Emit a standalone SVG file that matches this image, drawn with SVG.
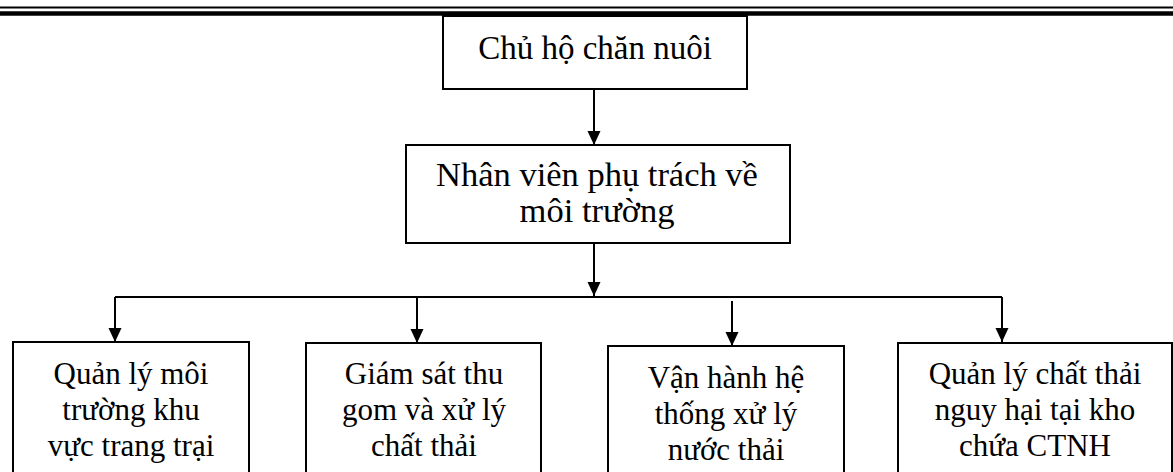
<svg xmlns="http://www.w3.org/2000/svg" width="1173" height="472" viewBox="0 0 1173 472">
  <style>
    .box { fill: #ffffff; stroke: #000000; stroke-width: 2; }
    .lbl { font-family: "Liberation Serif", "Times New Roman", serif; font-size: 31px; fill: #000000; text-anchor: middle; }
    .top { font-size: 33px; }
    .mid { font-size: 34.5px; }
    .wire { fill: none; stroke: #000000; stroke-width: 2; }
    .rule { stroke: #000000; }
  </style>
  <defs>
    <marker id="arrow" viewBox="0 0 14 14" refX="14" refY="7" markerWidth="14" markerHeight="14" markerUnits="userSpaceOnUse" orient="auto">
      <path d="M0,0.5 L14,7 L0,13.5 Z" fill="#000000"/>
    </marker>
  </defs>

  <!-- page header rules -->
  <g id="header">
    <line class="rule" x1="0" y1="7.5" x2="1173" y2="7.5" stroke-width="2"/>
    <line class="rule" x1="0" y1="13.5" x2="1173" y2="13.5" stroke-width="4.5"/>
  </g>

  <!-- connectors -->
  <g id="connectors">
    <line class="wire" x1="594" y1="89" x2="594" y2="145" marker-end="url(#arrow)"/>
    <line class="wire" x1="594" y1="243" x2="594" y2="296" marker-end="url(#arrow)"/>
    <polyline class="wire" points="115,297 1002,297"/>
    <line class="wire" x1="115" y1="297" x2="115" y2="342" marker-end="url(#arrow)"/>
    <line class="wire" x1="417" y1="297" x2="417" y2="343" marker-end="url(#arrow)"/>
    <line class="wire" x1="732" y1="301" x2="732" y2="346" marker-end="url(#arrow)"/>
    <line class="wire" x1="1002" y1="297" x2="1002" y2="342" marker-end="url(#arrow)"/>
  </g>

  <g id="node-owner">
    <rect class="box" x="443" y="16" width="304" height="73"/>
    <text class="lbl top" x="595" y="59">Chủ hộ chăn nuôi</text>
  </g>

  <g id="node-staff">
    <rect class="box" x="406" y="145" width="384" height="98"/>
    <text class="lbl mid" x="597" y="186">Nhân viên phụ trách về</text>
    <text class="lbl mid" x="597" y="222">môi trường</text>
  </g>

  <g id="node-farm">
    <rect class="box" x="13" y="342" width="236" height="140"/>
    <text class="lbl" x="131" y="384">Quản lý môi</text>
    <text class="lbl" x="131" y="420">trường khu</text>
    <text class="lbl" x="131" y="456">vực trang trại</text>
  </g>

  <g id="node-waste">
    <rect class="box" x="306" y="343" width="235" height="140"/>
    <text class="lbl" x="424" y="384">Giám sát thu</text>
    <text class="lbl" x="424" y="420">gom và xử lý</text>
    <text class="lbl" x="424" y="456">chất thải</text>
  </g>

  <g id="node-wastewater">
    <rect class="box" x="608" y="346" width="236" height="140"/>
    <text class="lbl" x="726" y="388">Vận hành hệ</text>
    <text class="lbl" x="726" y="424">thống xử lý</text>
    <text class="lbl" x="726" y="460">nước thải</text>
  </g>

  <g id="node-hazardous">
    <rect class="box" x="898" y="343" width="274" height="140"/>
    <text class="lbl" x="1035" y="384">Quản lý chất thải</text>
    <text class="lbl" x="1035" y="420">nguy hại tại kho</text>
    <text class="lbl" x="1035" y="456">chứa CTNH</text>
  </g>
</svg>
